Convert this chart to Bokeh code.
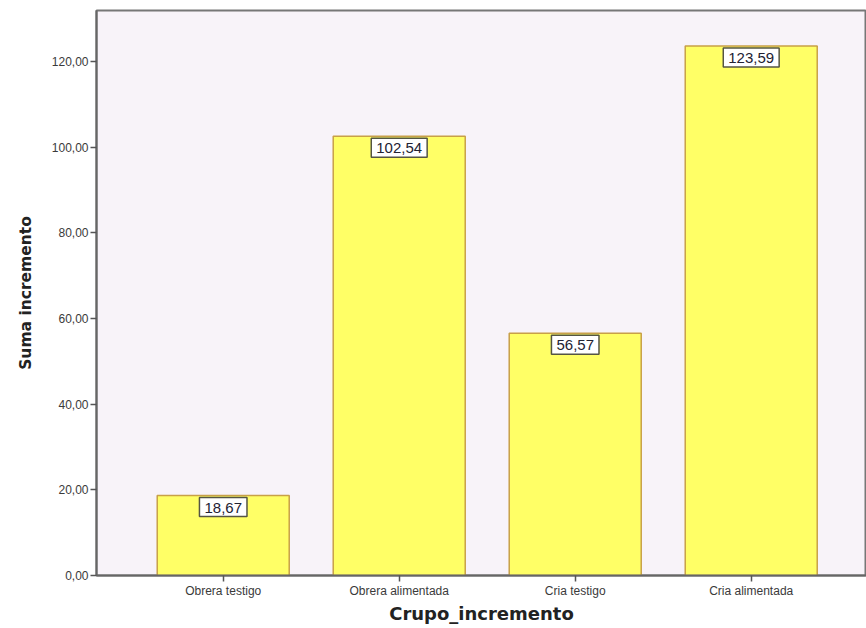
from bokeh.plotting import figure
from bokeh.models import ColumnDataSource, FixedTicker, Range1d
from bokeh.core.properties import value
from bokeh.embed import file_html
from bokeh.resources import INLINE

categories = ["Obrera testigo", "Obrera alimentada", "Cria testigo", "Cria alimentada"]
values = [18.67, 102.54, 56.57, 123.59]
y_ticks = [0, 20, 40, 60, 80, 100, 120]
y_tick_labels = ["0,00", "20,00", "40,00", "60,00", "80,00", "100,00", "120,00"]

xs = list(range(len(categories)))
src = ColumnDataSource(dict(
    x=xs, top=values,
    lab=[f"{v:.2f}".replace(".", ",") for v in values],
))

p = figure(width=866, height=628, output_backend="svg", toolbar_location=None,
           x_range=Range1d(-0.72, 3.655), y_range=Range1d(0, 131.9),
           min_border_left=96, min_border_right=0, min_border_top=10, min_border_bottom=53)
p.background_fill_color = "#F8F3F9"
p.border_fill_color = "white"
p.outline_line_color = "#777777"
p.outline_line_width = 2
p.grid.visible = False

p.vbar(x="x", top="top", width=0.75, bottom=0, source=src,
       fill_color="#FFFF66", line_color="#C8A048", line_width=1.5)

p.text(x="x", y="top", text="lab", source=src, text_align="center",
       text_baseline="top", y_offset=2, text_font_size="15px",
       text_color="#222233", text_font=value("Liberation Sans"),
       background_fill_color="white", border_line_color="#555544",
       border_line_width=1.5, padding=dict(left=5, right=5, top=5, bottom=4))

p.yaxis.ticker = FixedTicker(ticks=y_ticks)
p.yaxis.major_label_overrides = {t: l for t, l in zip(y_ticks, y_tick_labels)}
p.xaxis.ticker = FixedTicker(ticks=xs)
p.xaxis.major_label_overrides = {i: c for i, c in zip(xs, categories)}

for ax in (p.xaxis, p.yaxis):
    ax.axis_line_color = "#666666"
    ax.axis_line_width = 2
    ax.major_tick_line_color = "#555555"
    ax.major_tick_line_width = 1.5
    ax.major_tick_in = 0
    ax.major_tick_out = 6
    ax.minor_tick_line_color = None
    ax.major_label_text_font = "Liberation Sans"
    ax.major_label_text_font_size = "12px"
    ax.major_label_text_color = "#3a3a3a"
    ax.axis_label_text_font = "DejaVu Sans"
    ax.axis_label_text_font_style = "bold"
    ax.axis_label_text_color = "#222222"

p.xaxis.axis_label_text_font_size = "18px"
p.yaxis.axis_label_text_font_size = "15.5px"
p.yaxis.major_label_standoff = 2
p.xaxis.major_label_standoff = 2
p.xaxis.axis_label = "Crupo_incremento"
p.yaxis.axis_label = "Suma incremento"
p.yaxis.axis_label_standoff = 14
p.xaxis.axis_label_standoff = 2

open("out.html", "w").write(file_html(p, INLINE))
